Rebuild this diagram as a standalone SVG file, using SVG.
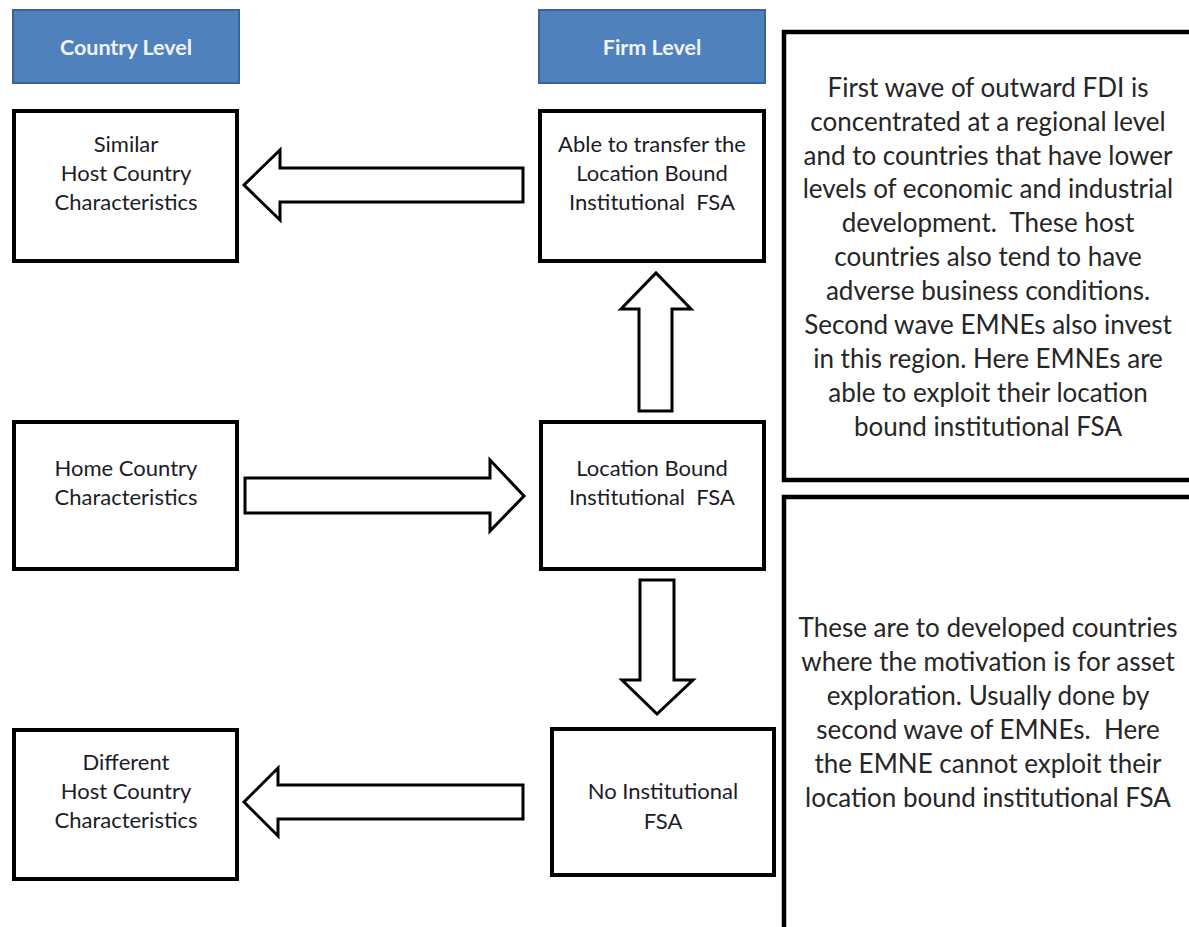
<svg xmlns="http://www.w3.org/2000/svg" width="1189" height="927" viewBox="0 0 1189 927">
<style>
.hdr{fill:#4F81BD;stroke:#3A6496;stroke-width:2}
.hdrt{font-family:Lato,"Open Sans","Liberation Sans",sans-serif;font-size:21.5px;font-weight:bold;fill:#F0F3F8;text-anchor:middle}
.box{fill:#fff;stroke:#000;stroke-width:4}
.big{fill:#fff;stroke:#000;stroke-width:4.5}
.t{font-family:Lato,"Open Sans","Liberation Sans",sans-serif;font-size:22px;fill:#1c1c28;text-anchor:middle}
.n{font-family:Lato,"Open Sans","Liberation Sans",sans-serif;font-size:26px;fill:#262626;text-anchor:middle}
.arr{fill:#fff;stroke:#000;stroke-width:3;stroke-linejoin:miter}
</style>
<rect width="1189" height="927" fill="#fff"/>
<g id="hdr-country">
<rect class="hdr" x="13" y="10" width="226" height="73"/>
<text class="hdrt" x="126" y="55">Country Level</text>
</g>
<g id="hdr-firm">
<rect class="hdr" x="539" y="10" width="226" height="73"/>
<text class="hdrt" x="652" y="55">Firm Level</text>
</g>
<g id="similar">
<rect class="box" x="14" y="111" width="223" height="150"/>
<text class="t" x="126" y="152">Similar</text>
<text class="t" x="126" y="181">Host Country</text>
<text class="t" x="126" y="210">Characteristics</text>
</g>
<g id="able">
<rect class="box" x="540" y="111" width="224" height="150"/>
<text class="t" x="652" y="152">Able to transfer the</text>
<text class="t" x="652" y="181">Location Bound</text>
<text class="t" x="652" y="210" xml:space="preserve">Institutional  FSA</text>
</g>
<g id="home">
<rect class="box" x="14" y="422" width="223" height="147"/>
<text class="t" x="126" y="476">Home Country</text>
<text class="t" x="126" y="505">Characteristics</text>
</g>
<g id="location">
<rect class="box" x="541" y="422" width="223" height="147"/>
<text class="t" x="652" y="476">Location Bound</text>
<text class="t" x="652" y="505" xml:space="preserve">Institutional  FSA</text>
</g>
<g id="different">
<rect class="box" x="14" y="730" width="223" height="149"/>
<text class="t" x="126" y="770">Different</text>
<text class="t" x="126" y="799">Host Country</text>
<text class="t" x="126" y="828">Characteristics</text>
</g>
<g id="noinst">
<rect class="box" x="552" y="729" width="222" height="146"/>
<text class="t" x="663" y="799">No Institutional</text>
<text class="t" x="663" y="829">FSA</text>
</g>
<g id="note-first">
<rect class="big" x="784" y="32" width="430" height="448"/>
<text class="n" x="988" y="97">First wave of outward FDI is</text>
<text class="n" x="988" y="131">concentrated at a regional level</text>
<text class="n" x="988" y="165">and to countries that have lower</text>
<text class="n" x="988" y="198">levels of economic and industrial</text>
<text class="n" x="988" y="232" xml:space="preserve">development.  These host</text>
<text class="n" x="988" y="266">countries also tend to have</text>
<text class="n" x="988" y="300">adverse business conditions.</text>
<text class="n" x="988" y="334">Second wave EMNEs also invest</text>
<text class="n" x="988" y="368">in this region. Here EMNEs are</text>
<text class="n" x="988" y="402">able to exploit their location</text>
<text class="n" x="988" y="436">bound institutional FSA</text>
</g>
<g id="note-second">
<rect class="big" x="784" y="497" width="430" height="460"/>
<text class="n" x="988" y="637">These are to developed countries</text>
<text class="n" x="988" y="671">where the motivation is for asset</text>
<text class="n" x="988" y="705">exploration. Usually done by</text>
<text class="n" x="988" y="739" xml:space="preserve">second wave of EMNEs.  Here</text>
<text class="n" x="988" y="773">the EMNE cannot exploit their</text>
<text class="n" x="988" y="807">location bound institutional FSA</text>
</g>
<g id="connectors">
<polygon class="arr" points="523,168 280,168 280,150 244,185 280,220 280,202 523,202"/>
<polygon class="arr" points="245,478 490,478 490,460 524,496 490,531 490,513 245,513"/>
<polygon class="arr" points="639,411 639,309 621,309 656,273 691,309 672,309 672,411"/>
<polygon class="arr" points="640,580 674,580 674,680 693,680 657,714 622,680 640,680"/>
<polygon class="arr" points="523,785 278,785 278,768 244,802 278,836 278,819 523,819"/>
</g>
</svg>
